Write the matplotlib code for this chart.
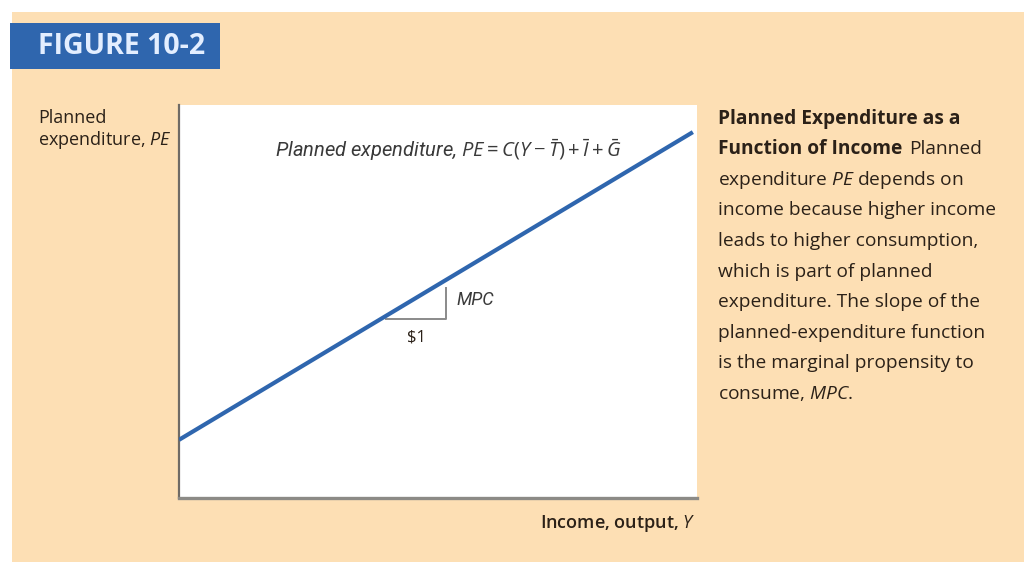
import matplotlib
matplotlib.use("Agg")
import matplotlib.pyplot as plt
from matplotlib import font_manager
from matplotlib.patches import Rectangle

# ---- data -------------------------------------------------------------
income = [0.0, 9.92]          # Y
planned_exp = [1.48, 9.31]    # PE = C(Y - T) + I + G
step_start = 4.0              # start of the slope triangle
step_run = 1.15               # the "$1" run
mpc = (planned_exp[1] - planned_exp[0]) / (income[1] - income[0])

caption_bold = ["Planned Expenditure as a", "Function of Income"]
caption_lines = [
    "expenditure $PE$ depends on",
    "income because higher income",
    "leads to higher consumption,",
    "which is part of planned",
    "expenditure. The slope of the",
    "planned-expenditure function",
    "is the marginal propensity to",
    "consume, $MPC$.",
]

# ---- fonts --------------------------------------------------------------
available = {f.name for f in font_manager.fontManager.ttflist}
narrow = "Liberation Sans Narrow" if "Liberation Sans Narrow" in available else "Roboto"
body = "Open Sans"
plt.rcParams["font.family"] = [body, "DejaVu Sans"]
plt.rcParams["mathtext.fontset"] = "custom"
plt.rcParams["mathtext.rm"] = body
plt.rcParams["mathtext.it"] = body + ":italic"
plt.rcParams["mathtext.bf"] = body + ":bold"

W, H = 1024, 562
fig = plt.figure(figsize=(W / 100, H / 100), dpi=100)
fig.patch.set_facecolor("white")


def fx(px):
    return px / W


def fy(py):
    return 1 - py / H


beige = "#FDDFB4"
blue = "#2F66AE"
ink = "#2B2118"

# background panel and header tab
fig.patches.append(Rectangle((fx(12), 0), 1, fy(12), transform=fig.transFigure,
                             facecolor=beige, edgecolor="none", zorder=-10))
fig.patches.append(Rectangle((fx(10), fy(69)), fx(210), 46 / H, transform=fig.transFigure,
                             facecolor=blue, edgecolor="none", zorder=-5))
fig.text(fx(38), fy(46), "FIGURE 10-2", color="#E3EEFF", fontsize=20.5,
         fontweight="bold", va="center", ha="left")

# ---- plot area ----------------------------------------------------------
left, right, top, bottom = 179, 697, 105, 498
ax = fig.add_axes([fx(left), fy(bottom), fx(right - left), (bottom - top) / H], zorder=2)
ax.set_facecolor("white")
ax.set_xlim(0, 10)
ax.set_ylim(0, 10)
ax.set_xticks([])
ax.set_yticks([])
for side in ("top", "right"):
    ax.spines[side].set_visible(False)
ax.spines["left"].set_color("#6f6b66")
ax.spines["left"].set_linewidth(1.6)
ax.spines["bottom"].set_color("#8c8a86")
ax.spines["bottom"].set_linewidth(2.4)

ax.plot(income, planned_exp, color=blue, lw=3.0, solid_capstyle="butt", zorder=3)

# slope triangle: run of $1, rise of MPC
y0 = planned_exp[0] + mpc * step_start
x1 = step_start + step_run
y1 = planned_exp[0] + mpc * x1
ax.plot([step_start, x1, x1], [y0 - 0.08, y0 - 0.08, y1 - 0.2], color="#8a8a8a", lw=1.4, zorder=2)
ax.text(x1 + 0.2, (y0 + y1) / 2 - 0.05, "MPC", fontsize=13, color="#3a3a3a", style="italic",
        ha="left", va="center", family=[narrow, "DejaVu Sans"])
ax.text(step_start + step_run / 2, y0 - 0.55, "$1", fontsize=12, color=ink,
        ha="center", va="center")

ax.text(5.2, 8.85, r"Planned expenditure, $PE = C(Y - \bar{T}) + \bar{I} + \bar{G}$",
        fontsize=14.5, style="italic", color="#3a3a3a", ha="center", va="center",
        family=[narrow, "DejaVu Sans"])

# axis titles
fig.text(fx(38), fy(118), "Planned", fontsize=13, color=ink, ha="left", va="center")
fig.text(fx(38), fy(140), "expenditure, $PE$", fontsize=13, color=ink, ha="left", va="center")
fig.text(fx(695), fy(524), "Income, output, $Y$", fontsize=13, color=ink, ha="right",
         va="center", fontweight="semibold")

# ---- caption --------------------------------------------------------------
cx = fx(718)
first, step = 119, 30.5
fs = 13.8
fig.text(cx, fy(first), caption_bold[0], fontsize=fs, fontweight="bold",
         color=ink, ha="left", va="center")
t1 = fig.text(cx, fy(first + step), caption_bold[1], fontsize=fs, fontweight="bold",
              color=ink, ha="left", va="center")
fig.add_artist(matplotlib.text.Annotation(
    "Planned", xy=(1, 0.5), xycoords=t1, xytext=(5, 0), textcoords="offset points",
    fontsize=fs, color=ink, ha="left", va="center", annotation_clip=False))
for i, line in enumerate(caption_lines):
    fig.text(cx, fy(first + step * (i + 2)), line, fontsize=fs, color=ink,
             ha="left", va="center")

fig.savefig("out.png", dpi=100, facecolor=fig.get_facecolor())
